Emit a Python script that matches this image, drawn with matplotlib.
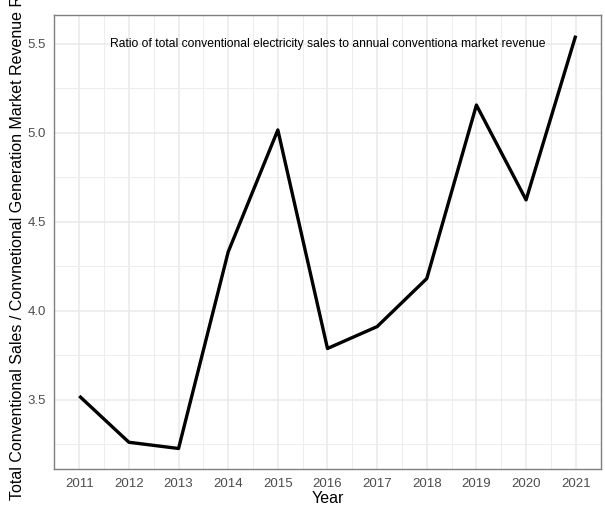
import matplotlib
matplotlib.use("Agg")
import matplotlib.pyplot as plt
import numpy as np
from matplotlib.ticker import MultipleLocator

plt.rcParams['font.family'] = ['Liberation Sans', 'DejaVu Sans']

years = [2011, 2012, 2013, 2014, 2015, 2016, 2017, 2018, 2019, 2020, 2021]
ratio = [3.52, 3.26, 3.225, 4.33, 5.015, 3.787, 3.91, 4.18, 5.155, 4.622, 5.545]
yticks = [3.5, 4.0, 4.5, 5.0, 5.5]
note = "Ratio of total conventional electricity sales to annual conventiona market revenue"

fig = plt.figure(figsize=(6.05, 5.05), dpi=100)
ax = fig.add_axes([0.090, 0.0703, 0.9026, 0.9007])

ax.plot(years, ratio, color='black', linewidth=2.4, solid_capstyle='butt', zorder=3)

ax.set_xlim(2010.5, 2021.5)
ax.set_ylim(3.107, 5.663)
ax.set_xticks(years)
ax.set_xticklabels([str(y) for y in years])
ax.set_yticks(yticks)
ax.set_yticklabels([f"{v:.1f}" for v in yticks])
ax.xaxis.set_minor_locator(MultipleLocator(0.5))
ax.yaxis.set_minor_locator(MultipleLocator(0.25))

ax.grid(True, which='major', color='#EBEBEB', linewidth=1.2, zorder=0)
ax.grid(True, which='minor', color='#EDEDED', linewidth=0.7, zorder=0)
ax.set_axisbelow(True)

for s in ax.spines.values():
    s.set_color('#7F7F7F')
    s.set_linewidth(1.0)

ax.tick_params(which='both', length=0, pad=6, labelsize=9.5, labelcolor='#4D4D4D')

ax.set_xlabel("Year", fontsize=11.5, labelpad=1)
ax.set_ylabel("Total Conventional Sales / Convnetional Generation Market Revenue Ratio",
              fontsize=11.5)
ax.yaxis.set_label_coords(-0.054, 0.5 + 8 / 455)

ax.text(2016, 5.5, note, ha='center', va='center', fontsize=8.75, color='black')

fig.savefig("out.png", dpi=100)
